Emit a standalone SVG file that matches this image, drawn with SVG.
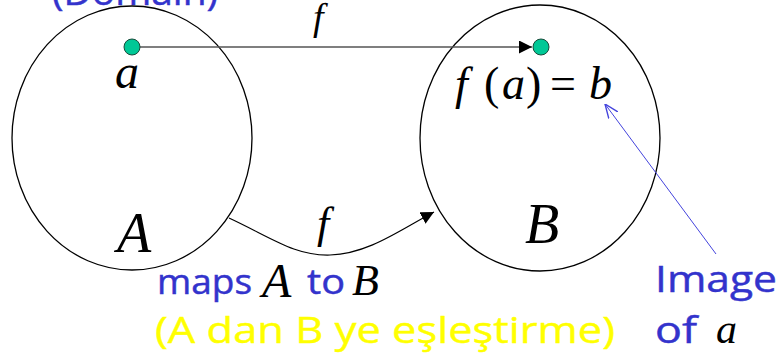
<svg xmlns="http://www.w3.org/2000/svg" width="784" height="358" viewBox="0 0 784 358">
<style>
.set{fill:none;stroke:#000;stroke-width:1.3}
.math{font-family:"Liberation Serif","Times New Roman","DejaVu Serif",serif;font-style:italic;fill:#000}
.mr{font-style:normal}
.blue{font-family:"Comic Sans MS","Open Sans","Noto Sans",sans-serif;fill:#3333CC;stroke:#3333CC;stroke-width:0.45}
.yel{font-family:"Comic Sans MS","Open Sans","Noto Sans",sans-serif;fill:#FFFF00;stroke:#FFFF00;stroke-width:0.45}
.pt{fill:#00C896;stroke:#1a4a3a;stroke-width:1}
</style>
<defs>
<marker id="ah" viewBox="0 0 10 10" refX="10" refY="5" markerWidth="13" markerHeight="13" markerUnits="userSpaceOnUse" orient="auto">
<path d="M0,0 L10,5 L0,10 z" fill="#000"/>
</marker>
<marker id="ahb" viewBox="0 0 10 10" refX="10" refY="5" markerWidth="14" markerHeight="14" markerUnits="userSpaceOnUse" orient="auto">
<path d="M0,1 L10,5 L0,9" fill="none" stroke="#4444DD" stroke-width="1"/>
</marker>
</defs>
<rect width="784" height="358" fill="#fff"/>
<text class="blue" x="52" y="5" font-size="36" textLength="166" lengthAdjust="spacingAndGlyphs">(Domain)</text>
<g id="setA">
<ellipse class="set" cx="132" cy="138" rx="120" ry="132"/>
<text class="math" x="117" y="252" font-size="56">A</text>
</g>
<g id="setB">
<ellipse class="set" cx="540" cy="138" rx="120" ry="133"/>
<text class="math" x="525" y="243" font-size="56">B</text>
</g>
<g id="connectors">
<line x1="140" y1="47" x2="532" y2="47" stroke="#555" stroke-width="1.6" marker-end="url(#ah)"/>
<path d="M229,218 C272,238 295,256 330,255 C368,254 400,230 434,212" fill="none" stroke="#000" stroke-width="1.2" marker-end="url(#ah)"/>
<line x1="716" y1="254" x2="605" y2="104" stroke="#4444DD" stroke-width="1" marker-end="url(#ahb)"/>
<text class="math" x="313" y="30" font-size="38">f</text>
<text class="math" x="317" y="238" font-size="44">f</text>
</g>
<g id="pointA">
<circle class="pt" cx="132" cy="47" r="8"/>
<text class="math" x="115" y="88" font-size="48">a</text>
</g>
<g id="pointB">
<circle class="pt" cx="541" cy="47" r="8"/>
<text class="math" y="99" font-size="46"><tspan x="455">f</tspan><tspan class="mr" x="484">(</tspan><tspan x="502">a</tspan><tspan class="mr" x="526">)</tspan><tspan class="mr" x="550">=</tspan><tspan x="589">b</tspan></text>
</g>
<g id="label-maps">
<text class="blue" x="157" y="294" font-size="34" textLength="95" lengthAdjust="spacingAndGlyphs">maps</text>
<text class="math" x="262" y="297" font-size="48">A</text>
<text class="blue" x="307" y="294" font-size="34" textLength="38" lengthAdjust="spacingAndGlyphs">to</text>
<text class="math" x="352" y="295" font-size="44">B</text>
<text class="yel" x="155" y="343" font-size="36" textLength="460" lengthAdjust="spacingAndGlyphs">(A dan B ye eşleştirme)</text>
</g>
<g id="label-image">
<text class="blue" x="655" y="292" font-size="36" textLength="122" lengthAdjust="spacingAndGlyphs">Image</text>
<text class="blue" x="655" y="343" font-size="36" textLength="42" lengthAdjust="spacingAndGlyphs">of</text>
<text class="math" x="716" y="343" font-size="42">a</text>
</g>
</svg>
